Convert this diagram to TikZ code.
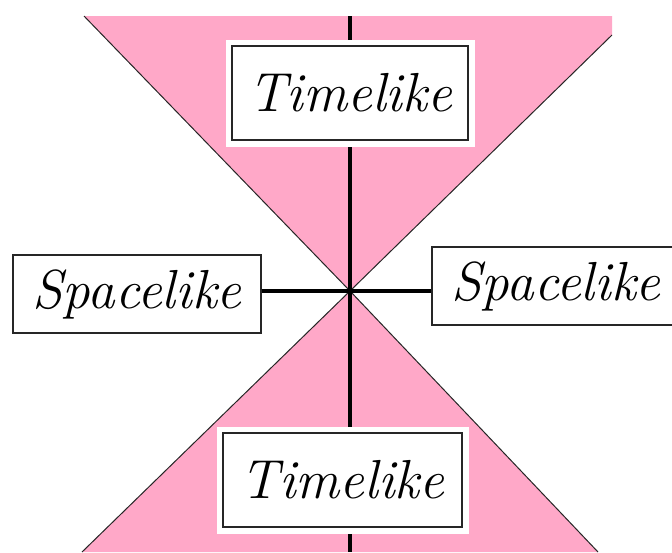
\documentclass[tikz,border=0pt]{standalone}
\begin{document}
\begin{tikzpicture}[x=1pt,y=-1pt,
  conepink/.style={fill=conefill,draw=none},
  edgeline/.style={draw=black!85,line width=1pt},
  axis/.style={draw=black,line width=4pt},
  labelbox/.style={draw=black!85,line width=1.3pt,fill=white,inner sep=0pt,
    font=\fontsize{55}{62}\selectfont\itshape},
  padded/.style={preaction={draw=white,line width=13pt}}]
\definecolor{conefill}{RGB}{255,168,200}
\useasboundingbox (0,0) rectangle (672,552);
\clip (0,0) rectangle (672,552);
% cones
\coordinate (apex) at (350,291);
\coordinate (ul) at (84,16);
\coordinate (ur) at (612,16);
\coordinate (urd) at (612,35);
\coordinate (ll) at (82,552);
\coordinate (lr) at (598,552);
\fill[conepink] (ul) -- (ur) -- (urd) -- (apex) -- cycle;
\fill[conepink] (apex) -- (ll) -- (lr) -- cycle;
\draw[edgeline] (ul) -- (apex) -- (urd);
\draw[edgeline] (ll) -- (apex) -- (lr);
% axes
\coordinate (vtop) at (350,16);
\coordinate (vbot) at (350,552);
\draw[axis] (vtop) -- (vbot);
% labels
\node[labelbox,padded,minimum width=236pt,minimum height=94pt] (tt) at (350,93) {Timelike};
\node[labelbox,padded,minimum width=239pt,minimum height=94pt] (tb) at (342.5,480) {Timelike};
\node[labelbox,minimum width=248pt,minimum height=78pt] (sl) at (137,294) {Spacelike};
\node[labelbox,minimum width=248pt,minimum height=78pt] (sr) at (556,286) {Spacelike};
\draw[axis] (sl.east |- apex) -- (sr.west |- apex);
\end{tikzpicture}
\end{document}
